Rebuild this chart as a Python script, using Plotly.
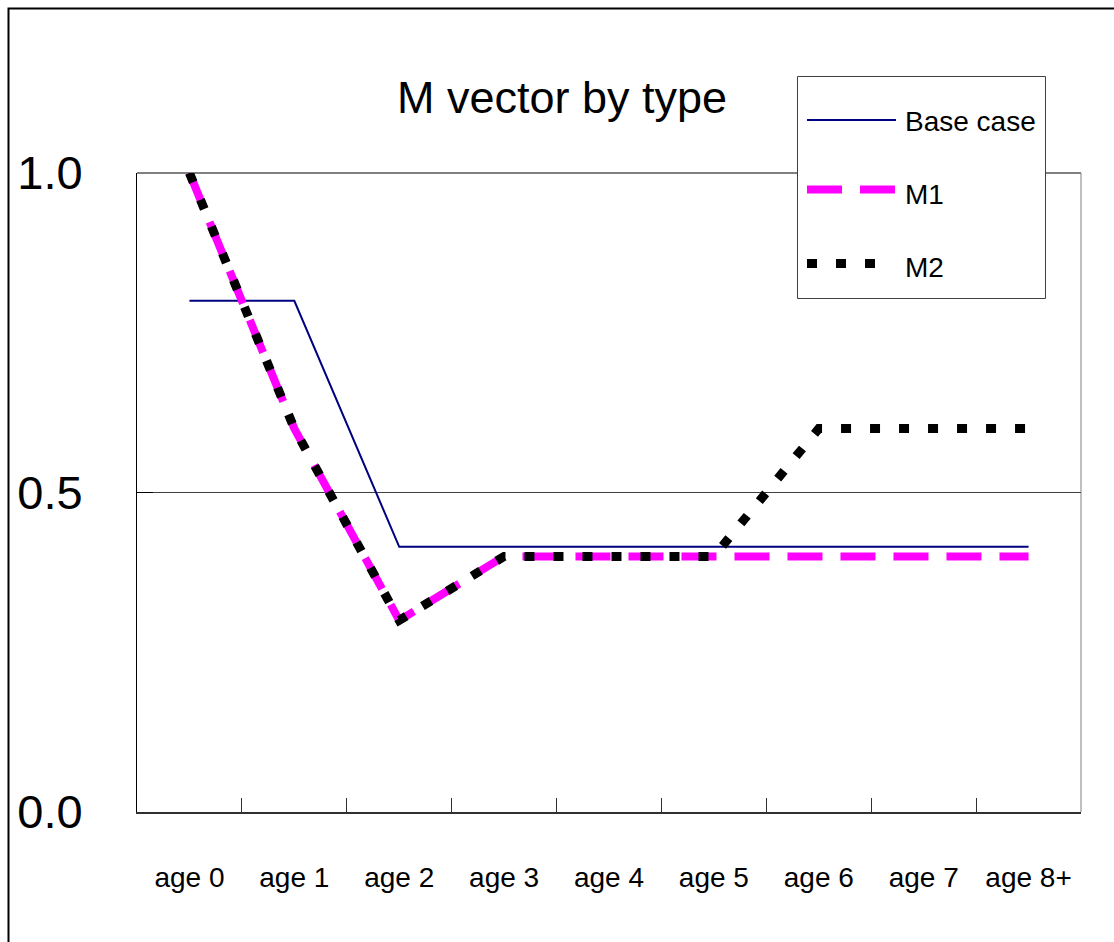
import plotly.graph_objects as go

# Natural mortality vector by age class for each scenario
ages = ["age 0", "age 1", "age 2", "age 3", "age 4", "age 5", "age 6", "age 7", "age 8+"]
base_case = [0.8, 0.8, 0.415, 0.415, 0.415, 0.415, 0.415, 0.415, 0.415]
m1 = [1.0, 0.6, 0.3, 0.4, 0.4, 0.4, 0.4, 0.4, 0.4]
m2 = [1.0, 0.6, 0.3, 0.4, 0.4, 0.4, 0.6, 0.6, 0.6]

y_ticks = [0.0, 0.5, 1.0]

FONT = "Liberation Sans, Arial, sans-serif"

styles = {
    "Base case": dict(color="#000080", width=2, dash="solid"),
    "M1": dict(color="#FF00FF", width=8, dash="35px,18px"),
    "M2": dict(color="#000000", width=9, dash="10px,19px"),
}

fig = go.Figure()
for name, vals in [("Base case", base_case), ("M1", m1), ("M2", m2)]:
    fig.add_trace(go.Scatter(x=ages, y=vals, mode="lines", name=name,
                             line=styles[name], showlegend=False))

# plot area in pixels
L, R, T, B = 137, 1081, 173, 812
W, H = R - L, B - T
FIG_W, FIG_H = 1114, 942


def px_x(p):
    return (p - L) / W


def px_y(p):
    return (B - p) / H


shapes = []
# outer chart frame
shapes.append(dict(type="rect", xref="paper", yref="paper",
                   x0=px_x(8.5), x1=px_x(1130), y0=px_y(960), y1=px_y(8.5),
                   line=dict(color="black", width=2), fillcolor="rgba(0,0,0,0)", layer="below"))
# top and right edges of the plot area
shapes.append(dict(type="line", xref="paper", yref="paper", x0=0, x1=1, y0=1, y1=1,
                   line=dict(color="#808080", width=2), layer="between"))
shapes.append(dict(type="line", xref="paper", yref="paper", x0=1, x1=1, y0=0, y1=1,
                   line=dict(color="#808080", width=1), layer="between"))

# legend box
lx0, lx1, ly0, ly1 = 797.5, 1045.5, 76.5, 298.5
shapes.append(dict(type="rect", xref="paper", yref="paper",
                   x0=px_x(lx0), x1=px_x(lx1), y0=px_y(ly1), y1=px_y(ly0),
                   line=dict(color="#404040", width=1), fillcolor="white", layer="above"))
annotations = []
# name, sample y, text y, sample end x
legend_rows = [("Base case", 120, 122, 896), ("M1", 189.5, 194, 896), ("M2", 263.5, 267, 877)]
for name, ly, ty, end_x in legend_rows:
    shapes.append(dict(type="line", xref="paper", yref="paper",
                       x0=px_x(807), x1=px_x(end_x), y0=px_y(ly), y1=px_y(ly),
                       line=styles[name], layer="above"))
    annotations.append(dict(text=name, xref="paper", yref="paper",
                            x=px_x(903), y=px_y(ty), xanchor="left", yanchor="middle",
                            showarrow=False, font=dict(family=FONT, size=28, color="black")))

fig.update_layout(
    width=FIG_W, height=FIG_H,
    margin=dict(l=L, r=FIG_W - R, t=T, b=FIG_H - B, autoexpand=False),
    paper_bgcolor="white", plot_bgcolor="white",
    title=dict(text="M vector by type", xref="container", x=562 / FIG_W, xanchor="center",
               yref="container", y=1 - 97 / FIG_H, yanchor="middle",
               font=dict(family=FONT, size=45, color="black")),
    shapes=shapes, annotations=annotations,
    showlegend=False,
)
fig.update_xaxes(
    type="category", categoryorder="array", categoryarray=ages,
    range=[-0.5, len(ages) - 0.5],
    showline=True, linecolor="#303030", linewidth=2,
    tickson="boundaries", ticks="inside", ticklen=14, tickcolor="#303030", tickwidth=1,
    showgrid=False, zeroline=False, tickangle=0,
    tickfont=dict(family=FONT, size=28, color="black"),
    ticklabelstandoff=39,
)
fig.update_yaxes(
    range=[0, 1.0], tickvals=y_ticks, tickformat=".1f",
    showline=True, linecolor="black", linewidth=1,
    ticks="inside", ticklen=16, tickcolor="black", tickwidth=1,
    showgrid=True, gridcolor="#404040", gridwidth=1, zeroline=False,
    tickfont=dict(family=FONT, size=47, color="black"),
    ticklabelstandoff=44,
)

fig.write_html("out.html")
